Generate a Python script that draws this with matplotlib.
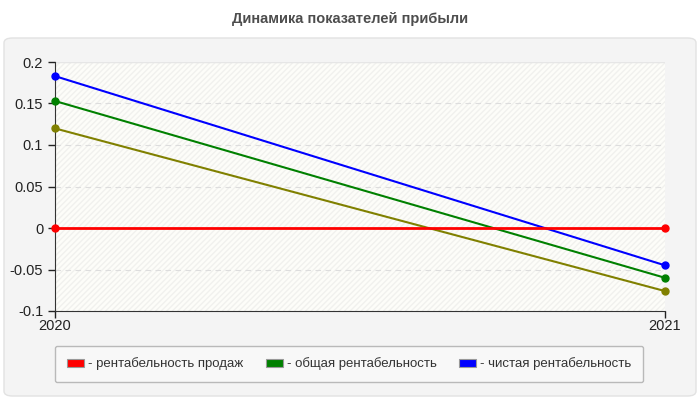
import matplotlib.pyplot as plt
from matplotlib.patches import FancyBboxPatch, Rectangle, Patch

plt.rcParams['font.family'] = ['Liberation Sans', 'DejaVu Sans']

# Data
years = ['2020', '2021']
sales_margin = [0.0, 0.0]          # рентабельность продаж
total_margin = [0.153, -0.060]     # общая рентабельность
net_margin = [0.183, -0.045]       # чистая рентабельность
extra_series = [0.120, -0.076]     # olive line, no legend entry

fig = plt.figure(figsize=(7, 4), dpi=100)
fig.patch.set_facecolor('white')

# gray rounded panel behind the chart
panel = FancyBboxPatch((4 / 700, 4 / 400), 692 / 700, 358 / 400,
                       boxstyle='round,pad=0,rounding_size=0.012',
                       transform=fig.transFigure, facecolor='#f4f4f4',
                       edgecolor='#e2e2e2', linewidth=1, zorder=-10)
fig.patches.append(panel)

fig.text(0.5, 0.952, 'Динамика показателей прибыли', ha='center', va='center',
         fontsize=10.5, fontweight='bold', color='#4d4d4d')

ax = fig.add_axes([55 / 700, 89 / 400, 610 / 700, 249 / 400])
ax.set_facecolor('#fdfdf9')
ax.add_patch(Rectangle((0, 0), 1, 1, transform=ax.transAxes, facecolor='none',
                       edgecolor='#f1f1ee', hatch='//////', linewidth=0, zorder=0))

x = range(len(years))
ax.plot(x, extra_series, color='#808000', lw=1.5, marker='o', ms=5, zorder=3)
ax.plot(x, total_margin, color='#008000', lw=1.5, marker='o', ms=5, zorder=3)
ax.plot(x, net_margin, color='#0000ff', lw=1.5, marker='o', ms=5, zorder=4)
ax.plot(x, sales_margin, color='#ff0000', lw=2, marker='o', ms=5, zorder=5)
for ln in ax.lines:
    ln.set_clip_on(False)

ax.set_xlim(0, 1)
ax.set_ylim(-0.1, 0.2)
ax.set_xticks(list(x))
ax.set_xticklabels(years)
ax.set_yticks([-0.1, -0.05, 0, 0.05, 0.1, 0.15, 0.2])
ax.set_yticklabels(['-0.1', '-0.05', '0', '0.05', '0.1', '0.15', '0.2'])
ax.grid(axis='y', color='#dddddd', linestyle=(0, (5, 4)), lw=0.8)
ax.set_axisbelow(True)

for s in ['top', 'right']:
    ax.spines[s].set_visible(False)
ax.spines['left'].set_color('#333333')
ax.spines['bottom'].set_color('#333333')
ax.axhline(0.2, color='#e6e6e6', lw=1, zorder=1)
ax.tick_params(axis='both', colors='#222222', labelsize=10.5, length=5, width=1)
ax.tick_params(axis='x', pad=1)

handles = [Patch(facecolor=c, edgecolor='#999999', linewidth=0.8)
           for c in ['#ff0000', '#008000', '#0000ff']]
labels = ['- рентабельность продаж', '- общая рентабельность', '- чистая рентабельность']
leg = fig.legend(handles, labels, loc='center', bbox_to_anchor=(349 / 700, 36 / 400),
                 ncol=3, frameon=True, fontsize=9.5, handlelength=1.3, handleheight=0.6,
                 handletextpad=0.3, columnspacing=1.7, borderpad=0.9, fancybox=True)
leg.get_frame().set_facecolor('#fafafa')
leg.get_frame().set_edgecolor('#aaaaaa')
for t in leg.get_texts():
    t.set_color('#333333')

fig.savefig('out.png', dpi=100)
